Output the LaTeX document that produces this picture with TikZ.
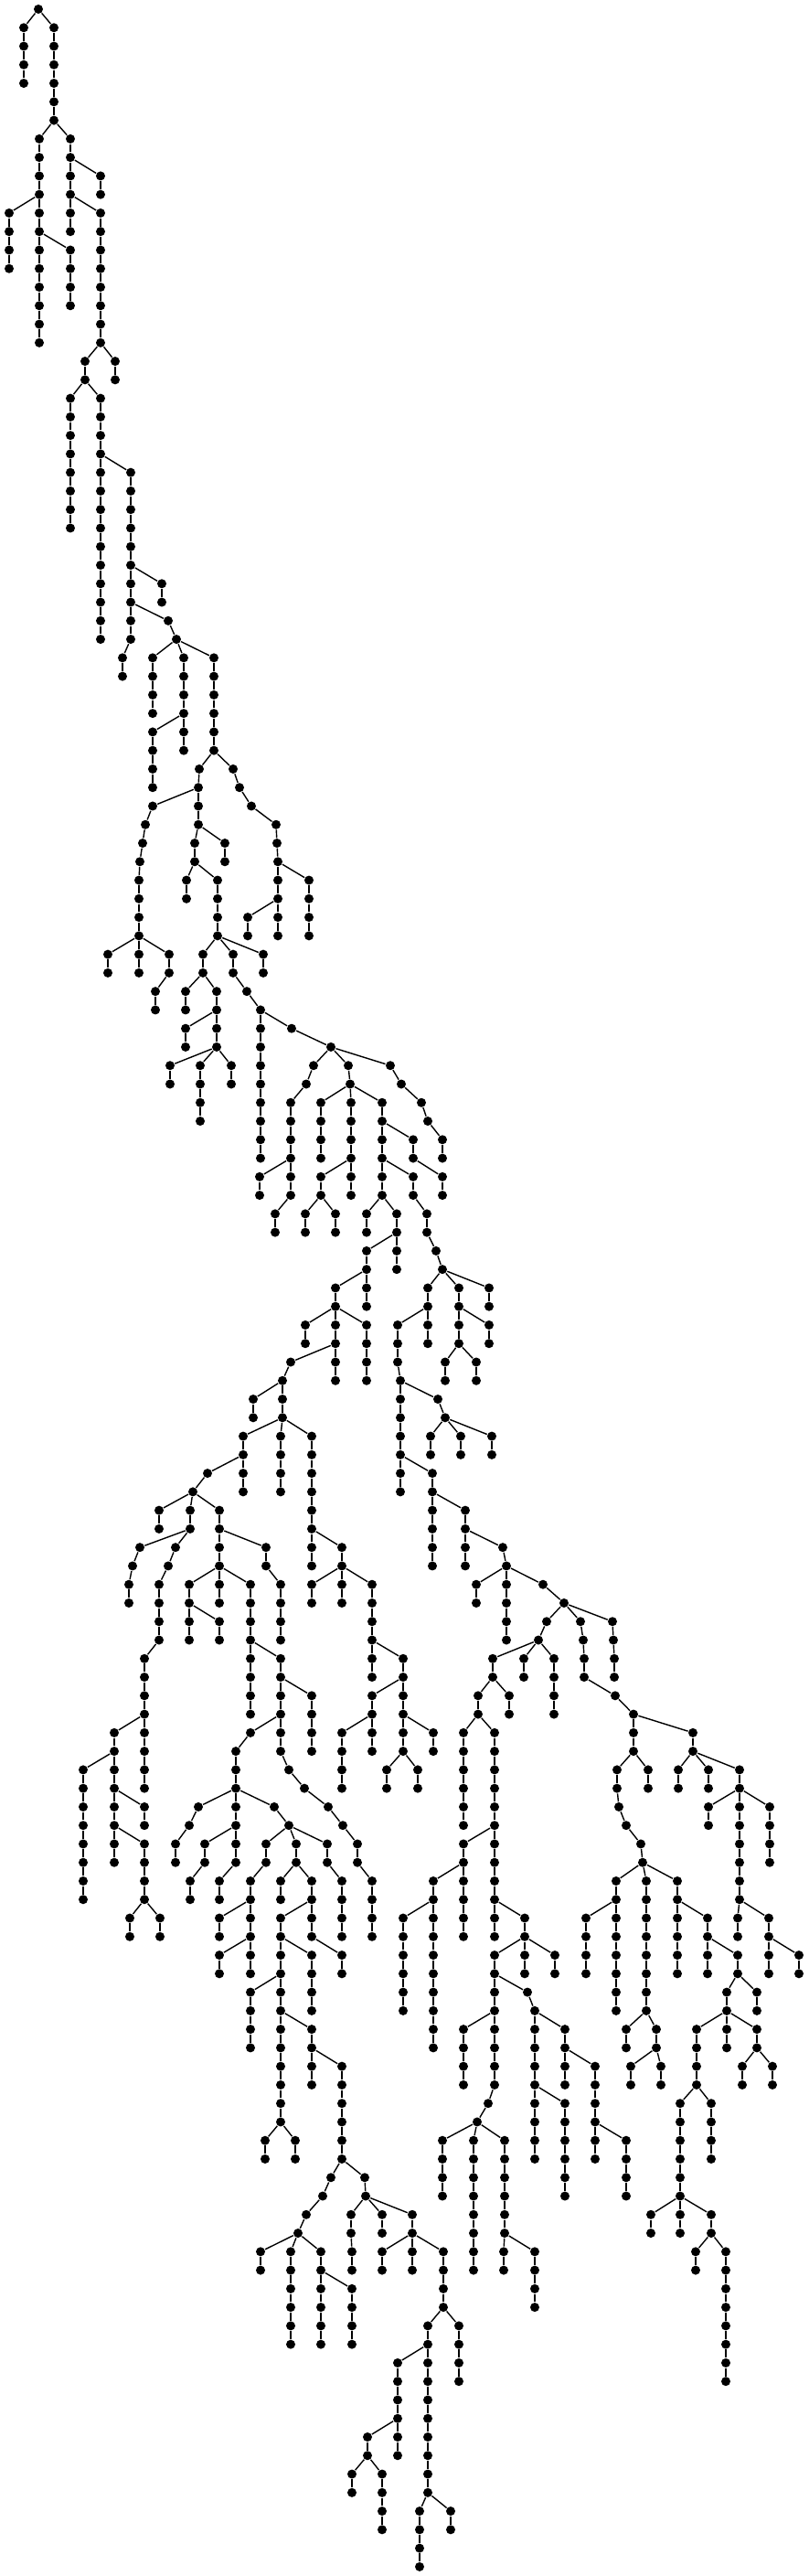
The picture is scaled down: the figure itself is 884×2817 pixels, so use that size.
\documentclass[tikz,border=0pt]{standalone}
\usepackage{tikz}

\tikzstyle{vert} = [circle, fill=black, draw=none, inner sep=0pt, minimum size=1mm]
\tikzstyle{edge} = [line width=0.4pt, black]

\begin{document}
\begin{tikzpicture}[x=0.1mm, y=-0.1mm]
    \useasboundingbox (0,0) rectangle (884,2817);

    % Root
    \node[vert] (n0-42) at (42,10) {};

    % Levels: level/{x/parent x, ...}
    \foreach \l/\row in {
        1/{26/42,59/42},
        2/{26/26,59/59},
        3/{26/26,59/59},
        4/{26/26,59/59},
        5/{59/59},
        6/{59/59},
        7/{43/59,77/59},
        8/{43/43,77/77},
        9/{43/43,77/77,110/77},
        10/{43/43,77/77,110/110},
        11/{10/43,43/43,77/77,110/77},
        12/{10/10,43/43,77/77,110/110},
        13/{10/10,43/43,77/43,110/110},
        14/{10/10,43/43,77/77,110/110},
        15/{43/43,77/77,110/110},
        16/{43/43,77/77,110/110},
        17/{43/43,110/110},
        18/{43/43,110/110},
        19/{93/110,126/110},
        20/{93/93,126/126},
        21/{77/93,110/93},
        22/{77/77,110/110},
        23/{77/77,110/110},
        24/{77/77,110/110},
        25/{77/77,110/110,143/110},
        26/{77/77,110/110,143/143},
        27/{77/77,110/110,143/143},
        28/{77/77,110/110,143/143},
        29/{110/110,143/143},
        30/{110/110,143/143},
        31/{110/110,143/143,177/143},
        32/{110/110,143/143,177/177},
        33/{110/110,143/143,184/143},
        34/{110/110,143/143,193/184},
        35/{134/143,167/193,201/193,234/193},
        36/{134/134,167/167,201/201,234/234},
        37/{167/167,201/201,234/234},
        38/{167/167,201/201,234/234},
        39/{167/201,201/201,234/234},
        40/{167/167,201/201,234/234},
        41/{167/167,218/234,255/234},
        42/{167/167,217/218,262/255},
        43/{167/217,217/217,275/262},
        44/{159/167,217/217,302/275},
        45/{156/159,213/217,246/217,303/302},
        46/{153/156,213/213,246/246,304/303},
        47/{152/153,204/213,238/213,304/304,338/304},
        48/{152/152,204/204,238/238,304/304,338/338},
        49/{152/152,238/238,271/304,304/304,338/338},
        50/{152/152,238/238,271/271,304/304,338/338},
        51/{118/152,152/152,185/152,222/238,255/238,288/238},
        52/{118/118,152/152,185/185,222/222,255/255,288/288},
        53/{170/185,203/222,237/222,270/255},
        54/{170/170,203/203,237/237,285/270},
        55/{203/237,237/237,285/285,319/285},
        56/{203/203,237/237,285/285,362/319},
        57/{186/237,219/237,253/237,285/285,343/362,381/362,427/362},
        58/{186/186,219/219,253/253,285/285,335/343,383/381,439/427},
        59/{219/219,285/285,318/335,351/383,384/383,418/383,461/439},
        60/{219/219,285/285,318/318,351/351,384/384,418/418,468/461},
        61/{285/285,318/318,351/351,384/384,418/418,452/418,484/468},
        62/{285/285,318/318,351/351,384/384,418/418,452/452,484/484},
        63/{284/318,318/318,351/384,384/384,418/418,452/418,484/452},
        64/{284/284,318/318,351/351,384/384,418/418,452/452,484/484},
        65/{301/318,334/351,367/351,401/418,434/418,467/452},
        66/{301/301,334/334,367/367,401/401,434/434,467/467},
        67/{401/434,434/434,477/467},
        68/{401/401,434/434,484/477},
        69/{367/401,401/401,468/484,502/484,535/484},
        70/{367/367,401/401,468/468,502/502,535/535},
        71/{334/367,367/367,401/367,435/468,468/468,502/502,535/502},
        72/{334/334,367/367,401/401,435/435,468/468,502/502,535/535},
        73/{318/367,367/367,401/401,435/435,487/502,521/502},
        74/{309/318,367/367,401/401,438/435,487/487,521/521},
        75/{277/309,309/309,438/438,479/438},
        76/{277/277,309/309,438/438,487/479},
        77/{266/309,307/309,341/309,438/438,471/487,504/487,538/487},
        78/{266/266,307/307,341/341,438/438,471/471,504/504,538/538},
        79/{227/266,266/266,307/307,341/341,438/438,473/438},
        80/{211/227,266/266,307/307,341/341,438/438,473/473},
        81/{174/211,208/211,240/211,341/341,473/473,509/473},
        82/{174/174,208/208,240/240,341/341,473/473,509/509},
        83/{153/208,192/208,240/240,291/240,341/341,374/341,473/473,509/509,550/509},
        84/{145/153,184/192,240/240,291/291,341/341,374/374,473/473,509/509,554/550},
        85/{141/145,174/184,207/240,240/240,274/240,307/291,341/374,374/374,407/374,521/554,554/554,594/554},
        86/{141/141,174/174,207/207,240/240,274/274,307/307,341/341,374/374,407/407,521/521,554/554,617/594},
        87/{174/174,207/207,240/207,274/274,307/307,407/407,554/554,598/617,635/617,670/617},
        88/{174/174,207/207,240/240,274/274,307/307,407/407,554/554,589/598,638/635,671/670},
        89/{158/174,274/274,307/274,407/407,441/407,539/589,573/589,606/589,639/638,672/671},
        90/{158/158,274/274,307/307,407/407,441/441,539/539,573/573,606/606,639/639,672/672},
        91/{158/158,274/274,307/307,341/307,407/441,441/441,523/539,557/539,606/606,673/639},
        92/{158/158,274/274,307/307,341/341,407/407,441/441,523/523,557/557,606/606,693/673},
        93/{125/158,158/158,274/307,307/307,341/341,374/407,407/407,441/441,474/441,507/523,541/523,693/693,758/693},
        94/{125/125,158/158,258/274,307/307,341/341,374/374,407/407,441/441,474/474,507/507,541/541,693/693,758/758},
        95/{91/125,125/125,158/158,258/258,316/307,374/374,423/441,457/441,507/507,541/541,675/693,709/693,742/758,775/758,809/758},
        96/{91/91,125/125,158/158,258/258,333/316,374/374,423/423,457/457,507/507,541/541,675/675,709/709,742/742,775/775,809/809},
        97/{91/91,125/125,158/125,217/258,258/258,300/258,359/333,507/507,541/541,677/675,775/809,809/809,842/809},
        98/{91/91,125/125,158/158,207/217,258/258,316/300,375/359,507/507,541/541,685/677,775/775,809/809,842/842},
        99/{91/91,125/125,158/125,192/207,224/258,258/258,291/316,324/316,358/316,391/375,507/541,541/541,701/685,809/809,842/842},
        100/{91/91,125/125,158/158,192/192,224/224,258/258,291/291,324/324,358/358,391/391,507/507,541/541,703/701,809/809,842/842},
        101/{91/91,158/158,208/224,240/258,274/291,307/324,341/324,374/358,407/391,474/507,507/507,541/541,674/703,707/703,741/703,809/809},
        102/{91/91,158/158,208/208,240/240,274/274,307/307,341/341,374/374,407/407,474/474,507/507,541/541,674/674,707/707,741/741,809/809},
        103/{142/158,175/158,240/274,274/274,307/341,341/341,374/374,407/407,441/474,474/474,507/507,541/541,574/541,641/674,674/674,707/707,741/741,774/741,807/809,841/809},
        104/{142/142,175/175,240/240,274/274,307/307,341/341,374/374,407/407,441/441,474/474,507/507,541/541,574/574,641/641,674/674,707/707,741/741,774/774,807/807,841/841},
        105/{240/274,274/274,307/307,341/307,374/341,441/441,474/474,541/574,574/574,607/574,641/641,674/674,707/707,741/741,774/774,807/774,841/841,874/841},
        106/{240/240,274/274,307/307,341/341,374/374,441/441,474/474,541/541,574/574,607/607,641/641,674/674,707/707,741/741,774/774,807/807,841/841,874/874},
        107/{274/307,307/307,341/341,441/441,474/474,541/541,577/541,674/674,707/707,795/807,828/807},
        108/{274/274,307/307,341/341,441/441,474/474,541/541,585/577,674/674,707/707,795/795,828/828},
        109/{274/274,307/307,341/307,474/474,507/541,541/541,585/585,618/585,685/707,718/707,762/795,795/795,828/795},
        110/{274/274,307/307,341/341,474/474,507/507,541/541,585/585,618/618,685/685,718/718,762/762,795/795,828/828},
        111/{307/307,341/341,374/341,507/507,541/541,585/585,618/618,651/618,690/718,723/718,762/762,812/828,845/828},
        112/{307/307,341/341,374/374,507/507,541/541,585/585,618/618,651/651,690/690,723/723,762/762,812/812,845/845},
        113/{307/307,374/374,534/541,585/585,618/585,651/651,744/762,778/762},
        114/{307/307,374/374,522/534,585/585,618/618,651/651,744/744,778/778},
        115/{290/307,323/307,374/374,484/522,518/522,552/522,585/585,618/618,651/651,685/651,744/744,778/778},
        116/{290/290,323/323,374/374,484/484,518/518,552/552,585/585,618/618,651/651,685/685,744/744,778/778},
        117/{362/374,399/374,484/484,518/518,552/552,618/618,685/685,744/744},
        118/{353/362,400/399,484/484,518/518,552/552,618/618,685/685,744/744},
        119/{335/353,384/400,418/400,451/400,518/518,552/552,712/744,744/744,778/744},
        120/{326/335,384/384,418/418,451/451,518/518,552/552,712/712,744/744,778/778},
        121/{285/326,318/326,351/326,385/384,418/451,451/451,485/451,518/518,551/552,585/552,761/778,794/778},
        122/{285/285,318/318,351/351,385/385,418/418,451/451,485/485,518/518,551/551,585/585,761/761,794/794},
        123/{318/318,351/351,385/351,485/485,585/585,794/794},
        124/{318/318,351/351,385/385,485/485,585/585,794/794},
        125/{318/318,351/351,385/385,468/485,502/485,794/794},
        126/{318/318,351/351,385/385,468/468,502/502,794/794},
        127/{435/468,468/468,502/502,794/794},
        128/{435/435,468/468,502/502,794/794},
        129/{435/435,468/468},
        130/{435/435,468/468},
        131/{402/435,435/435,468/468},
        132/{402/402,435/435,468/468},
        133/{385/402,418/402,468/468},
        134/{385/385,418/418,468/468},
        135/{418/418,459/468,493/468},
        136/{418/418,459/459,493/493},
        137/{459/459},
        138/{459/459}%
    }{
        \pgfmathtruncatemacro\up{\l-1}
        \foreach \x/\p in \row {
            \node[vert] (n\l-\x) at (\x,{10+20.267*\l}) {};
            \draw[edge] (n\up-\p) -- (n\l-\x);
        }
    }
\end{tikzpicture}
\end{document}
